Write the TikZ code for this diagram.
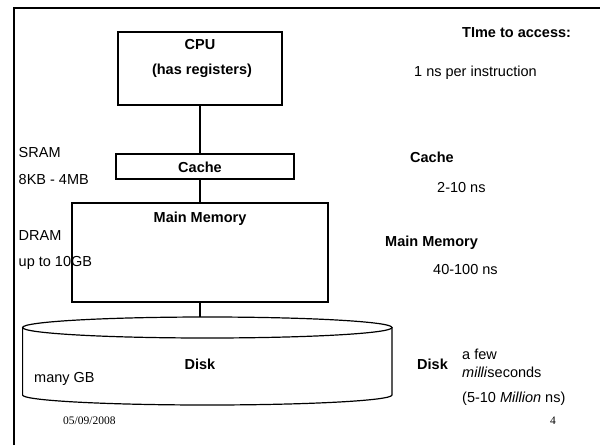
\documentclass[tikz,border=0pt]{standalone}
\usepackage{fontspec}
\setmainfont{Liberation Sans}
\newfontfamily\datefont{Liberation Serif}
\usetikzlibrary{positioning}

\tikzset{
  box/.style={draw, line width=1.2pt, inner sep=0pt},
  txt/.style={font=\fontsize{14.5}{18}\selectfont, inner sep=0pt},
  boldtxt/.style={txt, font=\fontsize{14.5}{18}\selectfont\bfseries},
  foot/.style={font=\datefont\fontsize{11.5}{13}\selectfont, inner sep=0pt}
}

\begin{document}
\begin{tikzpicture}[x=1pt, y=-1pt]
				\useasboundingbox (0,0) rectangle (600,445);
				
				% Rahmen
				\draw[line width=2.3pt] (14.3,445) -- (14.3,7.7) -- (600,7.7);
				
				% Kaesten der Hierarchie
				\node[box, minimum width=164, minimum height=73] (cpu) at (200,68.5) {};
				\node[box, minimum width=178, minimum height=25] (cache) at (205,166.5) {};
				\node[box, minimum width=256, minimum height=99] (mem) at (200,252.5) {};
				
				% Platte als Zylinder
				\coordinate (disktop) at (200,317);
				\draw[line width=1.2pt] (207.3,327.5) ellipse [x radius=184.7, y radius=10.5];
				\draw[line width=1.2pt] (22.6,327.5) -- (22.6,395)
				  arc[start angle=180, end angle=0, x radius=184.7, y radius=10] -- (392,327.5);
				
				% Verbindungen
				\draw[line width=1.2pt] (cpu.south) -- (cpu.south |- cache.north);
				\draw[line width=1.2pt] (mem.north |- cache.south) -- (mem.north);
				\draw[line width=1.2pt] (mem.south) -- (disktop);
				
				% Beschriftungen in den Kaesten
				\node[boldtxt] (cpuname) at (200,45) {CPU};
				\node[boldtxt] (cpureg) at (202,71) {(has registers)};
				\node[boldtxt] (cachename) at (200,167) {Cache};
				\node[boldtxt] (memname) at (200,219) {Main Memory};
				\node[boldtxt] (diskname) at (200,364) {Disk};
				\node[txt, anchor=west] (disksize) at (34,379) {many GB};
				
				% Groessen links
				\node[txt, anchor=west] (sram) at (18.5,153) {SRAM};
				\node[txt, anchor=west] (sramsize) at (18.5,180) {8KB - 4MB};
				\node[txt, anchor=west] (dram) at (18.5,236) {DRAM};
				\node[txt, anchor=west] (dramsize) at (18.5,263) {up to 10GB};
				
				% Zugriffszeiten rechts
				\node[boldtxt, anchor=west] (timehead) at (462,33) {TIme to access:};
				\node[txt, anchor=west] (cputime) at (414,73) {1 ns per instruction};
				\node[boldtxt, anchor=west] (cachehead) at (410,157) {Cache};
				\node[txt, anchor=west] (cachetime) at (437,188) {2-10 ns};
				\node[boldtxt, anchor=west] (memhead) at (385,243) {Main Memory};
				\node[txt, anchor=west] (memtime) at (433,270) {40-100 ns};
				\node[boldtxt, anchor=west] (diskhead) at (417,364) {Disk};
				\node[txt, anchor=west, align=left] (disktime) at (462,363) {a few\\\textit{milli}seconds};
				\node[txt, anchor=west] (disknote) at (462,399) {(5-10 \textit{Million} ns)};
				
				% Fusszeile
				\node[foot, anchor=west] (date) at (63,421) {05/09/2008};
				\node[foot] (page) at (553,421) {4};
			\end{tikzpicture}
\end{document}
